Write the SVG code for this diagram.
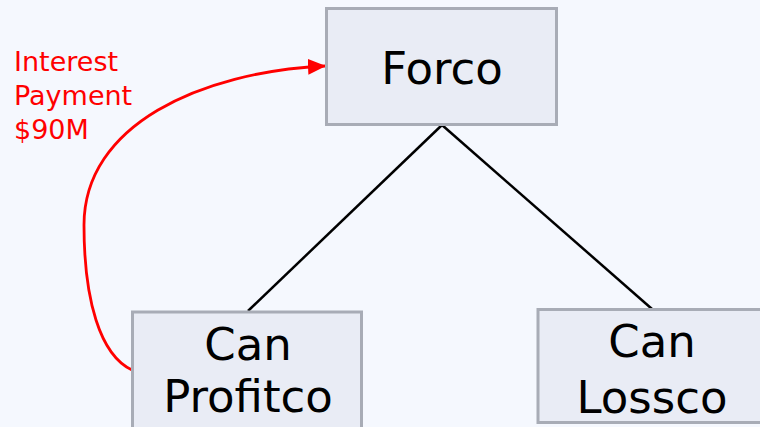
<svg xmlns="http://www.w3.org/2000/svg" width="760" height="427" viewBox="0 0 760 427">
  <defs>
    <style>
      .box { fill: #E9ECF5; stroke: #A8ACB6; stroke-width: 3; }
      .label { font-family: "DejaVu Sans", "Liberation Sans", sans-serif; font-size: 45px; fill: #000000; text-anchor: middle; }
      .note { font-family: "DejaVu Sans", "Liberation Sans", sans-serif; font-size: 27px; fill: #FF0000; }
      .tie { stroke: #000000; stroke-width: 2.5; fill: none; }
      .flow { stroke: #FF0000; stroke-width: 2.8; fill: none; }
    </style>
    <marker id="redArrow" viewBox="0 0 18 16" refX="17" refY="8" markerWidth="18" markerHeight="16" markerUnits="userSpaceOnUse" orient="auto">
      <path d="M0,0 L18,8 L0,16 Z" fill="#FF0000"/>
    </marker>
  </defs>

  <rect x="0" y="0" width="760" height="427" fill="#F5F8FE"/>

  <!-- connectors -->
  <g id="connectors">
    <line class="tie" x1="442" y1="125" x2="248" y2="311"/>
    <line class="tie" x1="442" y1="125" x2="652" y2="309"/>
    <path class="flow" d="M132,370 C100,355 84,300 84,225 C84,125 200,72 325,66" marker-end="url(#redArrow)"/>
  </g>

  <g id="forco">
    <rect class="box" x="326.5" y="8.5" width="230" height="116"/>
    <text class="label" x="442" y="84">Forco</text>
  </g>

  <g id="can-profitco">
    <rect class="box" x="132.5" y="312" width="229" height="130"/>
    <text class="label" x="248" y="360">Can</text>
    <text class="label" x="248" y="412">Profitco</text>
  </g>

  <g id="can-lossco">
    <rect class="box" x="538" y="309.5" width="240" height="113"/>
    <text class="label" x="652" y="357">Can</text>
    <text class="label" x="652" y="413">Lossco</text>
  </g>

  <g id="interest-label">
    <text class="note" x="14" y="71">Interest</text>
    <text class="note" x="14" y="105">Payment</text>
    <text class="note" x="14" y="139">$90M</text>
  </g>
</svg>
